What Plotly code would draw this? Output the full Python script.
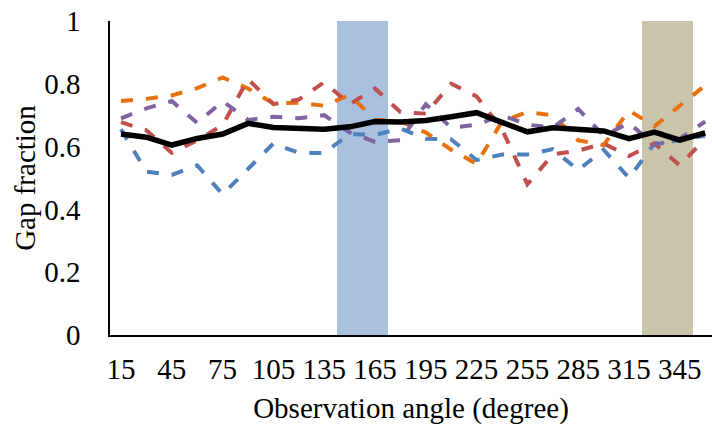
import plotly.graph_objects as go

# Observation angles (degrees), one sample every 15 degrees
angles = [15, 30, 45, 60, 75, 90, 105, 120, 135, 150, 165, 180,
          195, 210, 225, 240, 255, 270, 285, 300, 315, 330, 345, 360]

gap_blue = [0.655, 0.52, 0.51, 0.54, 0.448, 0.53, 0.61, 0.58, 0.58, 0.64, 0.637, 0.658,
            0.625, 0.623, 0.557, 0.575, 0.575, 0.592, 0.525, 0.59, 0.50, 0.61, 0.62, 0.635]
gap_orange = [0.745, 0.752, 0.763, 0.786, 0.82, 0.785, 0.738, 0.74, 0.73, 0.765, 0.685, 0.68,
              0.645, 0.59, 0.545, 0.68, 0.71, 0.70, 0.62, 0.605, 0.715, 0.665, 0.73, 0.795]
gap_red = [0.678, 0.652, 0.58, 0.62, 0.668, 0.815, 0.735, 0.75, 0.805, 0.735, 0.785, 0.71,
           0.705, 0.80, 0.76, 0.655, 0.48, 0.575, 0.587, 0.61, 0.57, 0.61, 0.54, 0.625]
gap_purple = [0.69, 0.722, 0.745, 0.675, 0.745, 0.685, 0.695, 0.69, 0.70, 0.645, 0.615, 0.62,
              0.735, 0.66, 0.67, 0.70, 0.67, 0.66, 0.72, 0.635, 0.675, 0.605, 0.625, 0.68]
gap_mean = [0.640, 0.630, 0.605, 0.626, 0.640, 0.674, 0.661, 0.657, 0.655, 0.663, 0.680, 0.678,
            0.683, 0.695, 0.708, 0.677, 0.647, 0.660, 0.653, 0.650, 0.625, 0.646, 0.621, 0.644]

# Highlighted angular sectors (full-height bars)
sector_a_angles = [150, 165]
sector_b_angles = [330, 345]
sector_height = [1, 1]

tick_angles = [15, 45, 75, 105, 135, 165, 195, 225, 255, 285, 315, 345]
y_ticks = [0, 0.2, 0.4, 0.6, 0.8, 1]
y_tick_text = ["0", "0.2", "0.4", "0.6", "0.8", "1"]

FONT = "Liberation Serif"
FSIZE = 29
DASH = "12px,13px"

fig = go.Figure()

fig.add_trace(go.Bar(x=sector_a_angles, y=sector_height, width=15,
                     marker=dict(color="#A9C1DF", line=dict(width=0)), showlegend=False))
fig.add_trace(go.Bar(x=sector_b_angles, y=sector_height, width=15,
                     marker=dict(color="#C9C4AA", line=dict(width=0)), showlegend=False))

for vals, color in [(gap_blue, "#4F81BD"), (gap_orange, "#E8710F"),
                    (gap_red, "#C0504D"), (gap_purple, "#8064A2")]:
    fig.add_trace(go.Scatter(x=angles, y=vals, mode="lines",
                             line=dict(color=color, width=4, dash=DASH),
                             showlegend=False))

fig.add_trace(go.Scatter(x=angles, y=gap_mean, mode="lines",
                         line=dict(color="black", width=5.5), showlegend=False))

fig.update_layout(
    width=712, height=430,
    margin=dict(l=110, r=0, t=21, b=95),
    paper_bgcolor="white", plot_bgcolor="white",
    bargap=0,
    font=dict(family=FONT, size=FSIZE, color="black"),
    xaxis=dict(range=[8.5, 364], tickvals=tick_angles, showgrid=False, zeroline=False,
               showline=True, linecolor="black", linewidth=1.5,
               ticks="outside", ticklen=7, tickcolor="rgba(0,0,0,0)",
               tickfont=dict(family=FONT, size=FSIZE),
               title=dict(text="Observation angle (degree)", font=dict(family=FONT, size=FSIZE),
                          standoff=14)),
    yaxis=dict(range=[0, 1], tickvals=y_ticks, ticktext=y_tick_text, showgrid=False,
               zeroline=False, showline=True, linecolor="black", linewidth=1.5,
               ticks="outside", ticklen=22, tickcolor="rgba(0,0,0,0)",
               tickfont=dict(family=FONT, size=FSIZE),
               title=dict(text="Gap fraction", font=dict(family=FONT, size=FSIZE), standoff=0)),
)

fig.write_html("out.html")
